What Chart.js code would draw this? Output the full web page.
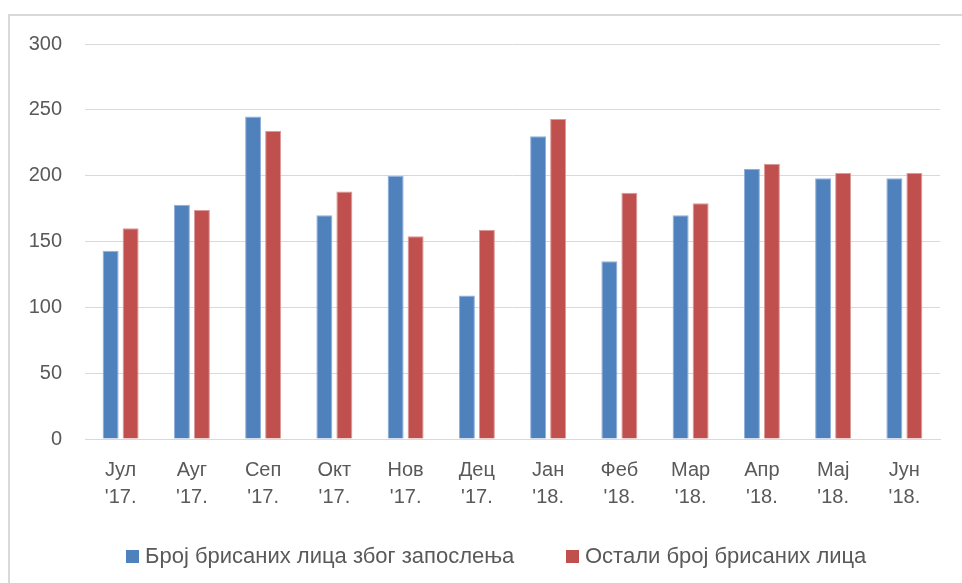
<!DOCTYPE html>
<html>
<head>
<meta charset="utf-8">
<script src="https://cdn.jsdelivr.net/npm/chart.js@4.4.1/dist/chart.umd.min.js"></script>
<style>
    body { margin: 0; background: #fff; font-family: 'Liberation Sans', Arial, sans-serif; }
    #frame { position: absolute; left: 8px; top: 14px; width: 1000px; height: 1000px;
             border-left: 2px solid #d9d9d9; border-top: 2px solid #d9d9d9; }
    #wrap { position: absolute; left: 0; top: 0; width: 962px; height: 583px; }
    .legend-item { position: absolute; top: 543px; display: flex; align-items: center;
                   font-size: 22px; color: #595959; white-space: nowrap; }
    .legend-box { width: 13px; height: 13px; margin-right: 6px; }
</style>
</head>
<body>
<div id="frame"></div>
<div id="wrap"><canvas id="chart"></canvas></div>
<div id="legend"></div>
<script>
const months = ['Јул', 'Ауг', 'Сеп', 'Окт', 'Нов', 'Дец', 'Јан', 'Феб', 'Мар', 'Апр', 'Мај', 'Јун'];
const years = ["'17.", "'17.", "'17.", "'17.", "'17.", "'17.", "'18.", "'18.", "'18.", "'18.", "'18.", "'18."];
const employed = [143, 178, 245, 170, 200, 109, 230, 135, 170, 205, 198, 198];
const others = [160, 174, 234, 188, 154, 159, 243, 187, 179, 209, 202, 202];
const seriesNames = ['Број брисаних лица због запослења', 'Остали број брисаних лица'];
const yTicks = [0, 50, 100, 150, 200, 250, 300];

document.addEventListener('DOMContentLoaded', function() {
    const ctx = document.getElementById('chart').getContext('2d');
    const labelColor = '#595959';
    const gridColor = '#d9d9d9';

    const chart = new Chart(ctx, {
        type: 'bar',
        data: {
            labels: months.map((m, i) => [m, years[i]]),
            datasets: [
                {
                    label: seriesNames[0],
                    data: employed,
                    backgroundColor: '#4f81bd',
                    borderColor: '#8eaedb',
                    borderWidth: 1
                },
                {
                    label: seriesNames[1],
                    data: others,
                    backgroundColor: '#c0504d',
                    borderColor: '#dc9997',
                    borderWidth: 1
                }
            ]
        },
        options: {
            responsive: true,
            maintainAspectRatio: false,
            animation: false,
            layout: { padding: { left: 0, right: 22, top: 44, bottom: 0 } },
            datasets: {
                bar: { categoryPercentage: 0.5614, barPercentage: 0.8 }
            },
            scales: {
                y: {
                    min: 0,
                    max: 300,
                    afterFit: function(scale) { scale.width = 85; },
                    afterBuildTicks: function(scale) {
                        scale.ticks = yTicks.map(v => ({ value: v }));
                    },
                    ticks: {
                        padding: 23,
                        color: labelColor,
                        font: { family: "'Liberation Sans', Arial, sans-serif", size: 20 }
                    },
                    grid: { color: gridColor, lineWidth: 1, drawTicks: false },
                    border: { display: false }
                },
                x: {
                    afterFit: function(scale) { scale.height = 144; },
                    ticks: {
                        padding: 18,
                        color: labelColor,
                        maxRotation: 0,
                        font: { family: "'Liberation Sans', Arial, sans-serif", size: 20, lineHeight: 1.35 }
                    },
                    grid: { display: false, drawTicks: false },
                    border: { display: true, color: gridColor, width: 1 }
                }
            },
            plugins: {
                legend: { display: false },
                tooltip: { enabled: false }
            }
        }
    });

    // Legend built from the datasets, placed like the original
    const legendX = [126, 566];
    const legend = document.getElementById('legend');
    chart.data.datasets.forEach(function(ds, i) {
        const item = document.createElement('div');
        item.className = 'legend-item';
        item.style.left = legendX[i] + 'px';
        const box = document.createElement('span');
        box.className = 'legend-box';
        box.style.background = ds.backgroundColor;
        const text = document.createElement('span');
        text.textContent = ds.label;
        item.appendChild(box);
        item.appendChild(text);
        legend.appendChild(item);
    });
});
</script>
</body>
</html>
